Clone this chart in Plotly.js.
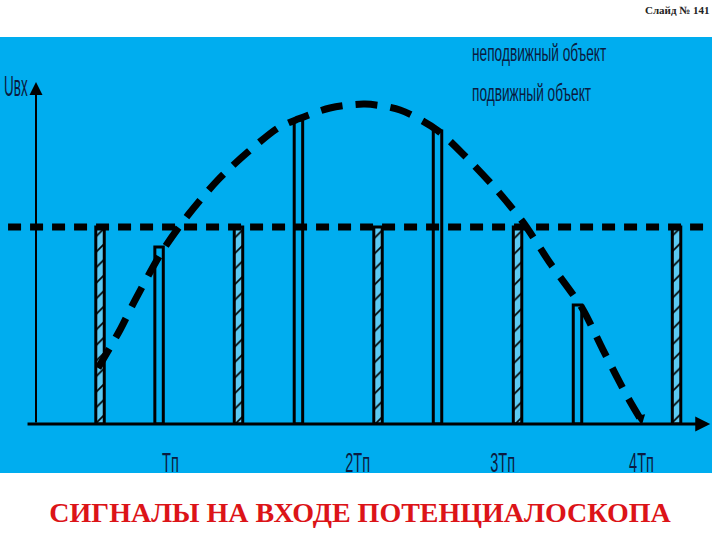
<!DOCTYPE html>
<html>
<head>
<meta charset="utf-8">
<script src="https://cdn.plot.ly/plotly-3.0.1.min.js"></script>
<style>html,body{margin:0;padding:0;background:#fff;}#chart{width:720px;height:540px;}</style>
</head>
<body>
<div id="chart"></div>
<script>
// Time axis in units of Tп, amplitude in units of the stationary-object level
const fixedPulseX = [0.424, 1.341, 2.265, 3.189, 4.242];   // неподвижный объект
const fixedPulseY = [1.0, 1.0, 1.0, 1.0, 1.0];
const movingPulseX = [0.815, 1.738, 2.659, 3.586];         // подвижный объект
const movingPulseY = [0.898, 1.543, 1.487, 0.604];
const envelopeX = [0.411, 0.556, 0.656, 0.841, 1.007, 1.205, 1.404, 1.603, 1.735, 1.947, 2.179, 2.411, 2.656, 2.841, 3.040, 3.225, 3.404, 3.616, 3.755, 3.921, 4.007];
const envelopeY = [0.284, 0.477, 0.629, 0.883, 1.061, 1.239, 1.381, 1.503, 1.548, 1.604, 1.624, 1.594, 1.492, 1.360, 1.198, 1.025, 0.817, 0.589, 0.376, 0.132, 0.020];
const levelX = [-0.185, 4.477];
const levelY = [1.0, 1.0];
const tickVals = [0.89, 2.13, 3.09, 4.01];
const tickText = ['Tп', '2Tп', '3Tп', '4Tп'];
const legendTexts = ['неподвижный объект', 'подвижный объект'];
const titleText = 'СИГНАЛЫ НА ВХОДЕ ПОТЕНЦИАЛОСКОПА';
const slideText = 'Слайд № 141';
const yLabel = 'Uвх';

const BLUE = '#00ADEF';
const INK = '#0b1b40';
const SANS = 'Liberation Sans, Arial, sans-serif';

const traces = [
  {
    type: 'bar', name: legendTexts[0], x: fixedPulseX, y: fixedPulseY, width: 0.056,
    marker: {
      color: '#5cc9f2',
      line: {color: '#000', width: 3},
      pattern: {shape: '/', fgcolor: '#000', bgcolor: '#5cc9f2', size: 11, solidity: 0.15}
    },
    showlegend: false, hoverinfo: 'skip'
  },
  {
    type: 'bar', name: legendTexts[1], x: movingPulseX, y: movingPulseY, width: 0.056,
    marker: {color: 'rgba(0,0,0,0)', line: {color: '#000', width: 3}},
    showlegend: false, hoverinfo: 'skip'
  },
  {
    type: 'scatter', mode: 'lines', x: levelX, y: levelY,
    line: {color: '#000', width: 7, dash: '13px,9px'},
    showlegend: false, hoverinfo: 'skip'
  },
  {
    type: 'scatter', mode: 'lines', x: envelopeX, y: envelopeY,
    line: {color: '#000', width: 7, dash: '22px,13px', shape: 'spline', smoothing: 0.8},
    showlegend: false, hoverinfo: 'skip'
  }
];

const layout = {
  width: 720, height: 540,
  margin: {l: 0, r: 8, t: 37, b: 116, pad: 0},
  paper_bgcolor: '#ffffff',
  plot_bgcolor: BLUE,
  barmode: 'overlay',
  title: {
    text: '<b>' + titleText + '</b>',
    font: {family: 'Liberation Serif, Times New Roman, serif', size: 28, color: '#dc1418'},
    x: 0.5, xanchor: 'center', xref: 'container',
    y: 0.052, yanchor: 'middle', yref: 'container'
  },
  xaxis: {
    range: [-0.2384, 4.4768],
    showgrid: false, zeroline: false, showline: false,
    ticks: '', tickvals: tickVals, ticktext: tickText,
    ticklabelstandoff: 19,
    tickfont: {family: SANS, size: 28, color: INK},
    fixedrange: true
  },
  yaxis: {
    range: [0, 1.9645],
    showgrid: false, zeroline: false, showline: false,
    showticklabels: false, ticks: '', fixedrange: true
  },
  shapes: [
    {type: 'rect', xref: 'paper', yref: 'paper', x0: 0, x1: 1, y0: -0.1266, y1: 1,
     fillcolor: BLUE, line: {width: 0}, layer: 'below'}
  ],
  annotations: [
    {x: 4.465, y: 0, ax: -0.066, ay: 0, xref: 'x', yref: 'y', axref: 'x', ayref: 'y',
     text: '', showarrow: true, arrowhead: 2, arrowsize: 1, arrowwidth: 3, arrowcolor: '#000'},
    {x: 0, y: 1.736, ax: 0, ay: 0, xref: 'x', yref: 'y', axref: 'x', ayref: 'y',
     text: '', showarrow: true, arrowhead: 2, arrowsize: 1.3, arrowwidth: 2, arrowcolor: '#000'},
    {x: 4.012, y: -0.005, ax: 3.998, ay: 0.06, xref: 'x', yref: 'y', axref: 'x', ayref: 'y',
     text: '', showarrow: true, arrowhead: 2, arrowsize: 1, arrowwidth: 2, arrowcolor: '#000'},
    {x: 0.003, y: 1.72, xref: 'paper', yref: 'y', xanchor: 'left', yanchor: 'middle',
     text: yLabel, showarrow: false, font: {family: SANS, size: 30, color: INK}},
    {x: 2.874, y: 1.884, xref: 'x', yref: 'y', xanchor: 'left', yanchor: 'middle',
     text: legendTexts[0], showarrow: false, font: {family: SANS, size: 24, color: INK}},
    {x: 2.874, y: 1.683, xref: 'x', yref: 'y', xanchor: 'left', yanchor: 'middle',
     text: legendTexts[1], showarrow: false, font: {family: SANS, size: 24, color: INK}},
    {x: 1, y: 1.0698, xref: 'paper', yref: 'paper', xanchor: 'right', yanchor: 'middle',
     text: '<b>' + slideText + '</b>', showarrow: false,
     font: {family: 'Liberation Serif, Times New Roman, serif', size: 11, color: '#222'}}
  ]
};

// The slide uses a tall, strongly condensed sans face: squeeze the text horizontally.
function squeeze(el, s, mode) {
  const b = el.getBBox();
  const ax = mode === 'left' ? b.x : b.x + b.width / 2;
  const prev = el.getAttribute('transform') || '';
  el.setAttribute('transform', (prev + ' translate(' + ax + ',0) scale(' + s + ',1) translate(' + (-ax) + ',0)').trim());
}

Plotly.newPlot('chart', traces, layout, {staticPlot: true, displayModeBar: false}).then(function (gd) {
  gd.querySelectorAll('g.xtick text').forEach(function (t) { squeeze(t, 0.52, 'center'); });
  gd.querySelectorAll('text.annotation-text').forEach(function (t) {
    const s = t.textContent;
    if (s === yLabel) squeeze(t, 0.45, 'left');
    else if (legendTexts.indexOf(s) >= 0) squeeze(t, 0.57, 'left');
  });
});
</script>
</body>
</html>
